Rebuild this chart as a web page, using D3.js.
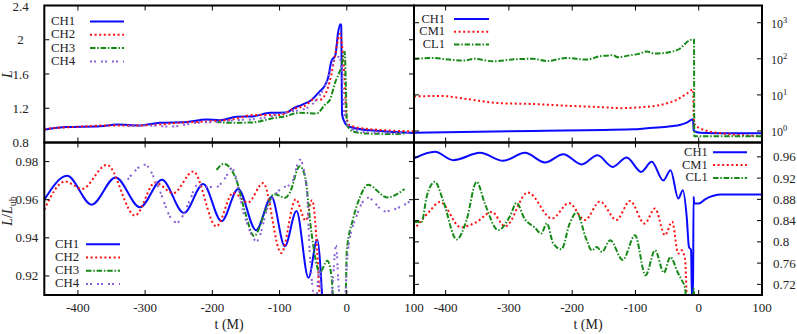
<!DOCTYPE html>
<html>
<head>
<meta charset="utf-8">
<script src="https://cdn.jsdelivr.net/npm/d3@7"></script>
<style>
  body { margin: 0; background: #fff; }
  text { font-family: 'Liberation Serif', 'DejaVu Serif', serif; fill: #222; }
</style>
</head>
<body>
<svg id="chart" width="797" height="334" font-family="Liberation Serif, DejaVu Serif, serif"></svg>
<script>
// ── Data: [t (M), value] ─────────────────────────────────────
// top-left: L
const tlCH1 = [[-450,0.95],[-417,0.98],[-367,0.99],[-342,1.01],[-308,1.0],[-278,1.03],[-238,1.04],[-209,1.07],[-189,1.06],[-164,1.10],[-140,1.105],[-114,1.147],[-90,1.15],[-79,1.2],[-67,1.24],[-52,1.30],[-40,1.40],[-33,1.46],[-28,1.55],[-22.8,1.75],[-17,1.82],[-13,2.08],[-9.5,2.18],[-8.3,2.17],[-7,1.13],[-4,1.05],[0,1.0],[10,0.97],[54,0.93],[100,0.91]];
const tlCH2 = [[-450,0.96],[-400,0.985],[-350,1.0],[-300,1.0],[-250,1.03],[-200,1.05],[-170,1.07],[-140,1.12],[-100,1.12],[-80,1.19],[-60,1.24],[-50,1.30],[-40,1.30],[-28,1.44],[-18,1.79],[-13,2.0],[-10,2.07],[-6.5,1.89],[-3,1.50],[-0.5,1.1],[4.5,1.0],[29,0.96],[100,0.93]];
const tlCH3 = [[-195,1.04],[-169,1.03],[-140,1.035],[-105,1.09],[-95,1.10],[-70,1.147],[-45,1.14],[-32.6,1.24],[-25,1.30],[-17.8,1.49],[-8,1.69],[-3,1.86],[-1.5,1.5],[0.5,1.0],[9.4,0.93],[29,0.905],[70,0.90],[86,0.905]];
const tlCH4 = [[-325,0.99],[-293,1.0],[-263,0.985],[-224,1.03],[-194,1.04],[-169,1.06],[-140,1.07],[-110,1.11],[-85,1.16],[-65,1.185],[-45,1.30],[-32.6,1.46],[-22.8,1.67],[-17.8,1.79],[-11.5,1.80],[-7.9,1.69],[-3,1.1],[4.5,0.97],[29,0.92],[94,0.91]];

// top-right: L (log)
const trCH1 = [[-450,0.9],[-262,1.0],[-104,1.11],[-82,1.19],[-50,1.32],[-40,1.38],[-30,1.47],[-19,1.7],[-9,2.12],[-8,1.05],[-5,0.95],[2,0.9],[54,0.86],[100,0.87]];
const trCM1 = [[-450,9.0],[-408,9.4],[-367,7.7],[-314,5.9],[-262,5.6],[-209,5.0],[-156,4.6],[-124,4.3],[-88,4.6],[-56,5.5],[-35,7.3],[-19,10.8],[-9,14],[-7.5,1.64],[2,1.19],[28,0.9],[100,0.72]];
const trCL1 = [[-450,100],[-419,105],[-395,95],[-370,90],[-355,100],[-325,85],[-290,97],[-262,100],[-240,87],[-209,105],[-177,95],[-156,118],[-135,125],[-128,110],[-109,125],[-95,137],[-82,160],[-70,140],[-51,148],[-30,190],[-14,330],[-7.5,345],[-7,0.72],[100,0.72]];

// bottom-left: L / L_ub
const blCH1 = [[-450,0.960],[-416,0.9725],[-379.5,0.9574],[-344,0.9717],[-307.7,0.956],[-275,0.9705],[-242.3,0.953],[-213.6,0.9682],[-186.3,0.9487],[-161.6,0.9656],[-135,0.944],[-111.9,0.9614],[-92.2,0.9356],[-74.8,0.954],[-57,0.919],[-44,0.939],[-36,0.905]];
const blCH2 = [[-450,0.9548],[-419,0.9696],[-407,0.9678],[-394,0.9656],[-357,0.9783],[-315,0.9517],[-285,0.969],[-258,0.9635],[-228.5,0.9748],[-194,0.946],[-169,0.9635],[-147,0.9585],[-124.4,0.9687],[-97.5,0.932],[-76,0.9602],[-61,0.949],[-51.6,0.9597],[-40,0.905]];
const blCH3 = [[-193.7,0.9757],[-183,0.9788],[-164,0.970],[-151,0.953],[-138,0.9409],[-120,0.955],[-108,0.963],[-92,0.961],[-85,0.9635],[-70,0.9776],[-62,0.972],[-52.5,0.9426],[-40.2,0.9218],[-29,0.928],[-22.8,0.920],[-19,0.905],[-2,0.905],[0,0.933],[9.4,0.950],[19.3,0.961],[31.6,0.9678],[60,0.9612],[86,0.9656]];
const blCH4 = [[-326,0.9705],[-300,0.9783],[-283,0.9687],[-260,0.9496],[-253,0.948],[-233,0.96],[-223.5,0.9673],[-208,0.9667],[-194,0.9667],[-181,0.9713],[-171,0.9765],[-152,0.9513],[-134,0.9383],[-117,0.9565],[-100,0.9652],[-82,0.9687],[-70,0.9809],[-60,0.967],[-55,0.932],[-50,0.911],[-46,0.905],[-41,0.924],[-37,0.905],[-30,0.900],[-22,0.912],[-16,0.936],[-12,0.914],[-8,0.902],[-3,0.905],[0,0.925],[2,0.934],[14.4,0.9513],[31.6,0.961],[56.5,0.9539],[81,0.9565],[94,0.9591]];

// bottom-right: L / L_ub
const brCH1 = [[-450,0.957],[-416.8,0.9694],[-387.9,0.9538],[-345.7,0.9675],[-308.9,0.9525],[-274.6,0.9675],[-243,0.9494],[-214,0.965],[-185,0.9457],[-160,0.963],[-136,0.9411],[-113.8,0.959],[-91,0.9317],[-74.3,0.9506],[-56,0.9155],[-44.5,0.935],[-32.3,0.8816],[-25,0.897],[-19,0.847],[-15.4,0.79],[-12.2,0.785],[-10.5,0.69],[-9,0.69],[-8.2,0.885],[-7,0.872],[0,0.872],[10,0.88],[36,0.889],[100,0.889]];
const brCM1 = [[-446,0.829],[-425,0.858],[-409,0.8752],[-376,0.8275],[-351,0.8375],[-327,0.8563],[-306,0.829],[-270,0.893],[-232,0.844],[-205,0.873],[-180,0.841],[-156,0.876],[-130,0.8412],[-108.6,0.877],[-85.5,0.8345],[-69,0.8627],[-53.3,0.8125],[-42,0.838],[-32.3,0.778],[-27,0.784],[-21.7,0.7685],[-19,0.69]];
const brCL1 = [[-450,0.8375],[-438,0.8375],[-430,0.885],[-417,0.913],[-404,0.878],[-382.5,0.8043],[-367,0.8407],[-351,0.913],[-338,0.872],[-317,0.822],[-298,0.849],[-288,0.8735],[-275,0.843],[-259,0.827],[-249,0.8156],[-240,0.835],[-230,0.797],[-217,0.786],[-204,0.8345],[-193,0.855],[-178,0.806],[-169,0.784],[-161,0.7904],[-153,0.781],[-140,0.803],[-120,0.766],[-100.7,0.8125],[-84,0.737],[-69,0.784],[-55,0.742],[-45,0.7715],[-33,0.742],[-27,0.728],[-22,0.715],[-19,0.69],[-9,0.69],[-8,0.712],[-7,0.69]];

// ticks / labels
const xTicks     = [-400, -300, -200, -100, 0, 100];
const tlYTicks   = [0.8, 1.2, 1.6, 2.0, 2.4];
const tlYLabels  = ["0.8", "1.2", "1.6", "2", "2.4"];
const trYTicks   = [1, 10, 100, 1000];
const trYExp     = ["0", "1", "2", "3"];
const blYTicks   = [0.92, 0.94, 0.96, 0.98];
const brYTicks   = [0.72, 0.76, 0.8, 0.84, 0.88, 0.92, 0.96];
const leftNames  = ["CH1", "CH2", "CH3", "CH4"];
const rightNames = ["CH1", "CM1", "CL1"];

// ── Styles (gnuplot-like) ────────────────────────────────────
const FONT = "Liberation Serif, DejaVu Serif, serif";
const STYLE = [
  { color: "#0a0aff", dash: null,              width: 2.0 },
  { color: "#ff1010", dash: "2,2.6",           width: 2.0 },
  { color: "#168a16", dash: "5.5,1.8,1.5,1.8", width: 2.0 },
  { color: "#8a60d8", dash: "2,2,2,5",         width: 2.0 }
];

// ── Layout ───────────────────────────────────────────────────
const X0 = 44.3, XM = 414, X1 = 762;
const Y0 = 5.5,  YM = 142.5, Y1 = 295;

const svg = d3.select("#chart");

const xL = d3.scaleLinear().domain([-450, 100]).range([X0, XM]);
const xR = d3.scaleLinear().domain([-450, 100]).range([XM, X1]);
const yTL = d3.scaleLinear().domain([0.8, 2.4]).range([YM, Y0]);
const yTR = d3.scaleLog().domain([0.48, 3000]).range([YM, Y0]);
const yBL = d3.scaleLinear().domain([0.91, 0.99]).range([Y1, YM]);
const yBR = d3.scaleLinear().domain([0.70, 0.987]).range([Y1, YM]);

function txt(x, y, size, s, anchor) {
  return svg.append("text").attr("x", x).attr("y", y)
    .attr("font-family", FONT).attr("font-size", size)
    .attr("text-anchor", anchor || "start").attr("fill", "#222").text(s);
}

let clipId = 0;
function panel(x, y, series, styleIdx) {
  const [xa, xb] = x.range(), [ya, yb] = y.range();
  const id = "clip" + (clipId++);
  svg.append("clipPath").attr("id", id).append("rect")
    .attr("x", xa).attr("y", yb).attr("width", xb - xa).attr("height", ya - yb);
  const g = svg.append("g").attr("clip-path", `url(#${id})`);
  const line = d3.line().x(d => x(d[0])).y(d => y(d[1])).curve(d3.curveMonotoneX);
  series.forEach((s, i) => {
    const st = STYLE[styleIdx[i]];
    g.append("path").attr("d", line(s)).attr("fill", "none")
      .attr("stroke", st.color).attr("stroke-width", st.width)
      .attr("stroke-dasharray", st.dash).attr("stroke-linejoin", "round");
  });

  // inward ticks on all four sides
  const tk = svg.append("g").attr("stroke", "#000").attr("stroke-width", 1);
  xTicks.forEach(t => {
    tk.append("line").attr("x1", x(t)).attr("x2", x(t)).attr("y1", ya).attr("y2", ya - 5);
    tk.append("line").attr("x1", x(t)).attr("x2", x(t)).attr("y1", yb).attr("y2", yb + 5);
  });
  return { xa, xb, ya, yb, tk };
}

function yTicksBoth(p, y, vals) {
  vals.forEach(v => {
    p.tk.append("line").attr("x1", p.xa).attr("x2", p.xa + 5).attr("y1", y(v)).attr("y2", y(v));
    p.tk.append("line").attr("x1", p.xb).attr("x2", p.xb - 5).attr("y1", y(v)).attr("y2", y(v));
  });
}

function border(p) {
  svg.append("rect").attr("x", p.xa).attr("y", p.yb)
    .attr("width", p.xb - p.xa).attr("height", p.ya - p.yb)
    .attr("fill", "none").attr("stroke", "#000").attr("stroke-width", 2);
}

function legend(names, styleIdx, tx, anchor, lx1, lx2, y0, dy, fs) {
  names.forEach((n, i) => {
    const yy = y0 + i * dy, st = STYLE[styleIdx[i]];
    txt(tx, yy + 3.5, fs, n, anchor);
    svg.append("line").attr("x1", lx1).attr("x2", lx2).attr("y1", yy).attr("y2", yy)
      .attr("stroke", st.color).attr("stroke-width", st.width)
      .attr("stroke-dasharray", st.dash);
  });
}

// ── Panels ───────────────────────────────────────────────────
const pTL = panel(xL, yTL, [tlCH1, tlCH2, tlCH3, tlCH4], [0, 1, 2, 3]);
yTicksBoth(pTL, yTL, tlYTicks);
const pTR = panel(xR, yTR, [trCH1, trCM1, trCL1], [0, 1, 2]);
yTicksBoth(pTR, yTR, trYTicks);
const pBL = panel(xL, yBL, [blCH1, blCH2, blCH3, blCH4], [0, 1, 2, 3]);
yTicksBoth(pBL, yBL, blYTicks);
const pBR = panel(xR, yBR, [brCH1, brCM1, brCL1], [0, 1, 2]);
yTicksBoth(pBR, yBR, brYTicks);
[pTL, pTR, pBL, pBR].forEach(border);

// ── Tick labels ──────────────────────────────────────────────
tlYTicks.forEach((v, i) => txt(20.5, Math.max(yTL(v) + 4.5, 10.5), 13, tlYLabels[i], "middle"));
blYTicks.forEach(v => txt(38.3, yBL(v) + 4.5, 13, v.toFixed(2), "end"));
trYTicks.forEach((v, i) => {
  const t = txt(771, yTR(v) + 5, 12, "10");
  t.append("tspan").attr("dy", -5).attr("font-size", 8.5).text(trYExp[i]);
});
brYTicks.forEach(v => txt(773, yBR(v) + 4.5, 13, String(+v.toFixed(2))));
[xL, xR].forEach(x => {
  xTicks.forEach(t => txt(x(t), 311.5, 13, String(t), "middle"));
  txt((x.range()[0] + x.range()[1]) / 2, 328.5, 14, "t (M)", "middle");
});

// axis titles
txt(0, 0, 14, "L", "middle").attr("font-style", "italic")
  .attr("transform", `translate(12,${(Y0 + YM) / 2}) rotate(-90)`);
const lt = txt(0, 0, 14, "", "middle").attr("transform", "translate(12,211) rotate(-90)");
lt.append("tspan").attr("font-style", "italic").text("L");
lt.append("tspan").text("/");
lt.append("tspan").attr("font-style", "italic").text("L");
lt.append("tspan").attr("dy", 3.5).attr("font-size", 10).text("ub");

// ── Legends ──────────────────────────────────────────────────
legend(leftNames,  [0, 1, 2, 3], 51,    "start", 90,  124, 21.5,  13.3, 12.8);
legend(rightNames, [0, 1, 2],    445,   "end",   454, 489, 19,    12.8, 12.5);
legend(leftNames,  [0, 1, 2, 3], 55,    "start", 86,  120, 244.3, 13.2, 12.8);
legend(rightNames, [0, 1, 2],    707.7, "end",   713, 747, 152.3, 12.8, 12.5);
</script>
</body>
</html>
